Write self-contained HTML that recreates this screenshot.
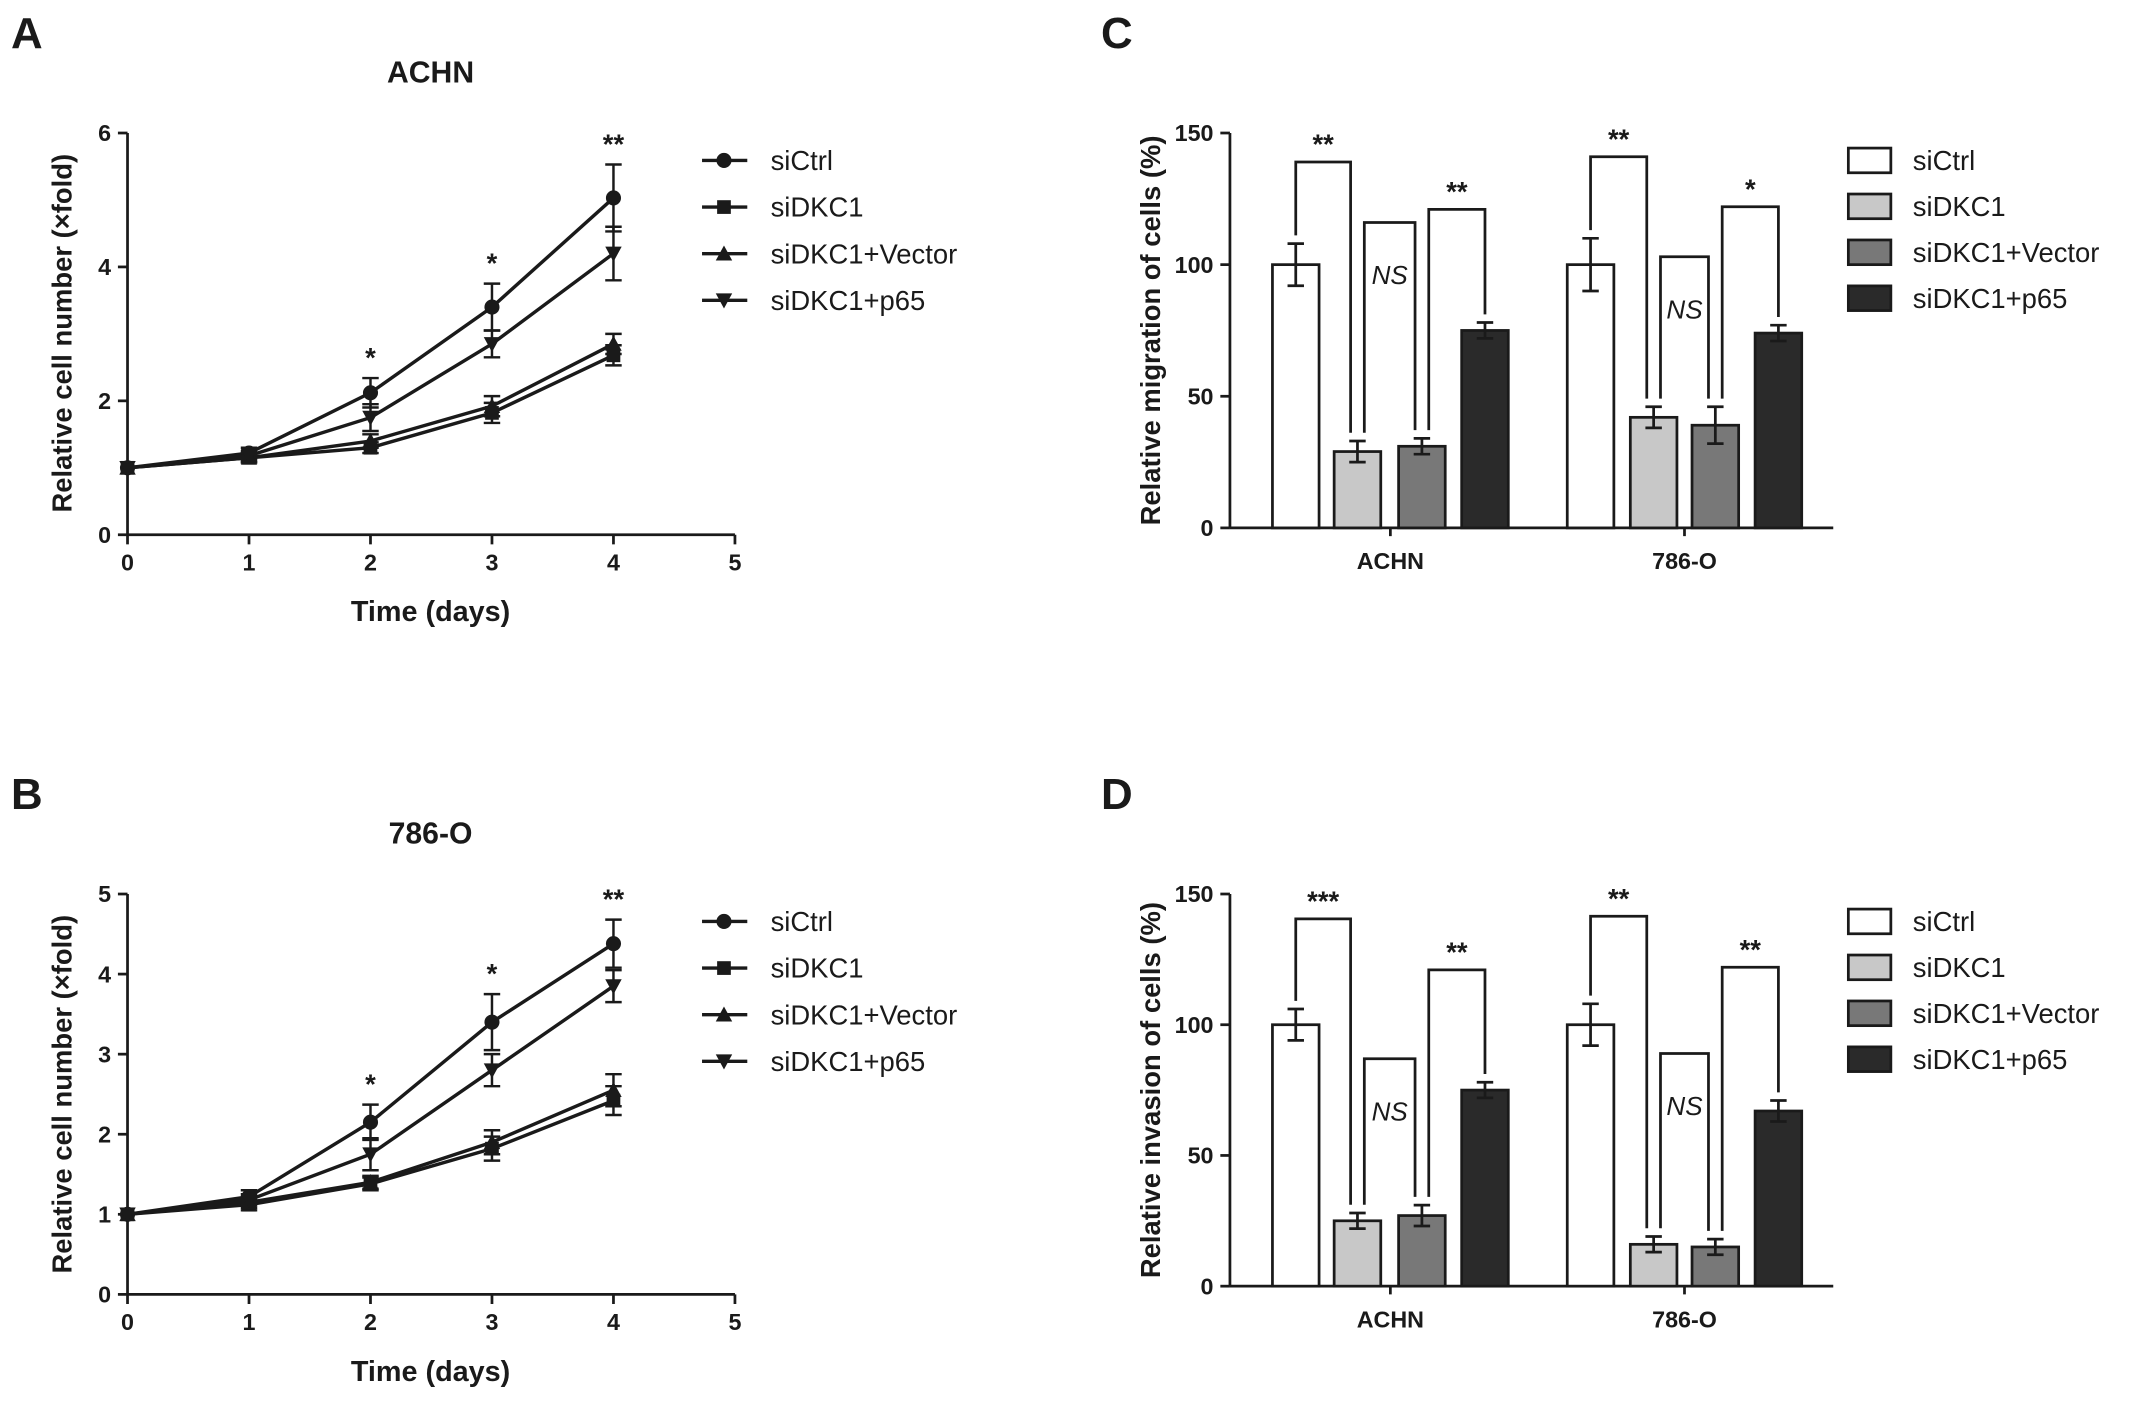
<!DOCTYPE html>
<html><head><meta charset="utf-8"><style>
html,body{margin:0;padding:0;background:#fff}
svg{display:block}
text{font-family:"Liberation Sans",Arial,sans-serif;fill:#1a1a1a}
</style></head><body>
<svg id="fig" width="2150" height="1413" viewBox="0 0 1568 1030.5" xmlns="http://www.w3.org/2000/svg"></svg>
<script>
const days=[0,1,2,3,4];
const seriesNames=["siCtrl","siDKC1","siDKC1+Vector","siDKC1+p65"];
const aCtrl=[1,1.22,2.12,3.4,5.03], aCtrlErr=[0.05,0.08,0.22,0.35,0.5];
const aDKC1=[1,1.15,1.3,1.82,2.68], aDKC1Err=[0.05,0.07,0.08,0.15,0.15];
const aVec=[1,1.15,1.4,1.92,2.85], aVecErr=[0.05,0.07,0.1,0.15,0.15];
const aP65=[1,1.18,1.75,2.85,4.2], aP65Err=[0.05,0.07,0.2,0.2,0.4];
const bCtrl=[1,1.22,2.15,3.4,4.38], bCtrlErr=[0.05,0.08,0.22,0.35,0.3];
const bDKC1=[1,1.12,1.38,1.82,2.42], bDKC1Err=[0.05,0.07,0.08,0.15,0.18];
const bVec=[1,1.15,1.4,1.9,2.55], bVecErr=[0.05,0.07,0.08,0.15,0.2];
const bP65=[1,1.18,1.75,2.8,3.85], bP65Err=[0.05,0.07,0.2,0.2,0.2];
const aSig=["","","*","*","**"], bSig=["","","*","*","**"];
const groups=["ACHN","786-O"];
const cVals=[[100,29,31,75],[100,42,39,74]], cErrs=[[8,4,3,3],[10,4,7,3]];
const dVals=[[100,25,27,75],[100,16,15,67]], dErrs=[[6,3,4,3],[8,3,3,4]];
const cSig=[["**","NS","**"],["**","NS","*"]];
const dSig=[["***","NS","**"],["**","NS","**"]];
const cBracket=[[139,116,121],[141,103,122]];
const dBracket=[[140.5,87,121],[141.5,89,122]];
const lineTicksA=[0,2,4,6], lineTicksB=[0,1,2,3,4,5], barTicks=[0,50,100,150], xTicks=[0,1,2,3,4,5];

const S=document.getElementById('fig'), NS='http://www.w3.org/2000/svg';
function el(tag,attrs,parent,txt){const e=document.createElementNS(NS,tag);for(const k in attrs)e.setAttribute(k,attrs[k]);if(txt!==undefined)e.textContent=txt;(parent||S).appendChild(e);return e;}
function T(x,y,s,size,anchor,name,extra){const t=el('text',Object.assign({x:x,y:y,'font-size':size,'font-weight':'bold','text-anchor':anchor||'middle'},extra||{}),null,s);

return t;}
function L(x1,y1,x2,y2,w,name){const l=el('line',{x1:x1,y1:y1,x2:x2,y2:y2,stroke:'#1a1a1a','stroke-width':w||2});

return l;}
function marker(type,x,y,name){let e;const s=6;
if(type===0)e=el('circle',{cx:x,cy:y,r:5.5,fill:'#1a1a1a'});
else if(type===1)e=el('rect',{x:x-5,y:y-5,width:10,height:10,fill:'#1a1a1a'});
else if(type===2)e=el('polygon',{points:`${x},${y-s} ${x+s},${y+s-1} ${x-s},${y+s-1}`,fill:'#1a1a1a'});
else e=el('polygon',{points:`${x},${y+s} ${x+s},${y-s+1} ${x-s},${y-s+1}`,fill:'#1a1a1a'});

}

function linePanel(letter,title,top,bottom,ymax,ticks,series,errs,sig,ylabelY){
 const x0=93,x5=536,xs=v=>x0+(x5-x0)*v/5,ys=v=>bottom-(bottom-top)*v/ymax;
 T(8,top-62,letter,32,'start','panel-letter-'+letter);
 T(314,top-37,title,22,'middle','chart-title-'+title);
 L(x0,top,x0,bottom,2,'y-axis');L(x0,bottom,x5,bottom,2,'x-axis');
 ticks.forEach(t=>{L(x0-7,ys(t),x0,ys(t),2,'y-tick');T(x0-12,ys(t)+6,String(t),17,'end','y-tick-label');});
 xTicks.forEach(t=>{L(xs(t),bottom,xs(t),bottom+7,2,'x-tick');T(xs(t),bottom+26,String(t),17,'middle','x-tick-label');});
 T(314,bottom+63,'Time (days)',21,'middle','x-axis-title');
 T(0,0,'Relative cell number (×fold)',20,'middle','y-axis-title',{transform:`translate(52,${ylabelY}) rotate(-90)`});
 series.forEach((ser,si)=>{
  const pts=ser.map((v,i)=>xs(days[i])+','+ys(v)).join(' ');
  const p=el('polyline',{points:pts,fill:'none',stroke:'#1a1a1a','stroke-width':2.5});
  
  
  ser.forEach((v,i)=>{const x=xs(days[i]),e=errs[si][i];
   if(i>0){L(x,ys(v+e),x,ys(v-e),1.8,'error-bar');L(x-6,ys(v+e),x+6,ys(v+e),1.8,'error-cap');L(x-6,ys(v-e),x+6,ys(v-e),1.8,'error-cap');}
   marker(si,x,ys(v),'point-'+seriesNames[si]);});
 });
 sig.forEach((s,i)=>{if(s){const top0=ys(series[0][i]+errs[0][i]);T(xs(days[i]),top0-8,s,20,'middle','significance-mark');}});
 seriesNames.forEach((n,i)=>{const y=top+20+i*34;L(512,y,545,y,2.5,'legend-line');marker(i,528,y,'legend-marker');T(562,y+7,n,20,'start','legend-entry-'+n,{'font-weight':'normal'});});
}
linePanel('A','ACHN',97,390,6,lineTicksA,[aCtrl,aDKC1,aVec,aP65],[aCtrlErr,aDKC1Err,aVecErr,aP65Err],aSig,243);
linePanel('B','786-O',652,944,5,lineTicksB,[bCtrl,bDKC1,bVec,bP65],[bCtrlErr,bDKC1Err,bVecErr,bP65Err],bSig,798);

const fills=['#ffffff','#c8c8c8','#787878','#2a2a2a'];
function barPanel(letter,top,bottom,vals,errs,sig,brk,ytitle){
 const x0=897,x1=1337,ys=v=>bottom-(bottom-top)*v/150;
 const centers=[[945,990,1037,1083],[1160,1206,1251,1297]],bw=34;
 T(803,top-62,letter,32,'start','panel-letter-'+letter);
 L(x0,top,x0,bottom,2,'y-axis');L(x0,bottom,x1,bottom,2,'x-axis');
 barTicks.forEach(t=>{L(x0-7,ys(t),x0,ys(t),2,'y-tick');T(x0-12,ys(t)+6,String(t),17,'end','y-tick-label');});
 T(0,0,ytitle,20,'middle','y-axis-title',{transform:`translate(846,${(top+bottom)/2}) rotate(-90)`});
 groups.forEach((g,gi)=>{
  const gc=(centers[gi][0]+centers[gi][3])/2;
  L(gc,bottom,gc,bottom+6,2,'x-tick');
  T(gc,bottom+30,g,17,'middle','x-tick-label-'+g);
  vals[gi].forEach((v,i)=>{const cx=centers[gi][i];
   const r=el('rect',{x:cx-bw/2,y:ys(v),width:bw,height:ys(0)-ys(v),fill:fills[i],stroke:'#1a1a1a','stroke-width':2});
   
   
   const e=errs[gi][i];L(cx,ys(v+e),cx,ys(v-e),2,'error-bar');L(cx-6,ys(v+e),cx+6,ys(v+e),2,'error-cap');L(cx-6,ys(v-e),cx+6,ys(v-e),2,'error-cap');
  });
  const pairs=[[0,1],[1,2],[2,3]];
  pairs.forEach((p,k)=>{const a=p[0],b=p[1];
   const xa=centers[gi][a]+(k===0?0:5),xb=centers[gi][b]-(k===2?0:5);
   const ta=ys(vals[gi][a]+errs[gi][a])-6,tb=ys(vals[gi][b]+errs[gi][b])-6;
   const yt=ys(brk[gi][k]);
   const pl=el('polyline',{points:`${xa},${ta} ${xa},${yt} ${xb},${yt} ${xb},${tb}`,fill:'none',stroke:'#1a1a1a','stroke-width':2});
   
   
   const s=sig[gi][k];
   if(s==='NS')T((xa+xb)/2,yt+45,s,19,'middle','significance-label',{'font-weight':'normal','font-style':'italic'});
   else T((xa+xb)/2,yt-6,s,20,'middle','significance-label');
  });
 });
 seriesNames.forEach((n,i)=>{const y=top+20+i*33.5;
  const r=el('rect',{x:1348,y:y-9,width:31,height:18,fill:fills[i],stroke:'#1a1a1a','stroke-width':2});
  
  
  T(1395,y+7,n,20,'start','legend-entry-'+n,{'font-weight':'normal'});});
}
barPanel('C',97,385,cVals,cErrs,cSig,cBracket,'Relative migration of cells (%)');
barPanel('D',652,938,dVals,dErrs,dSig,dBracket,'Relative invasion of cells (%)');
</script>
</body></html>
